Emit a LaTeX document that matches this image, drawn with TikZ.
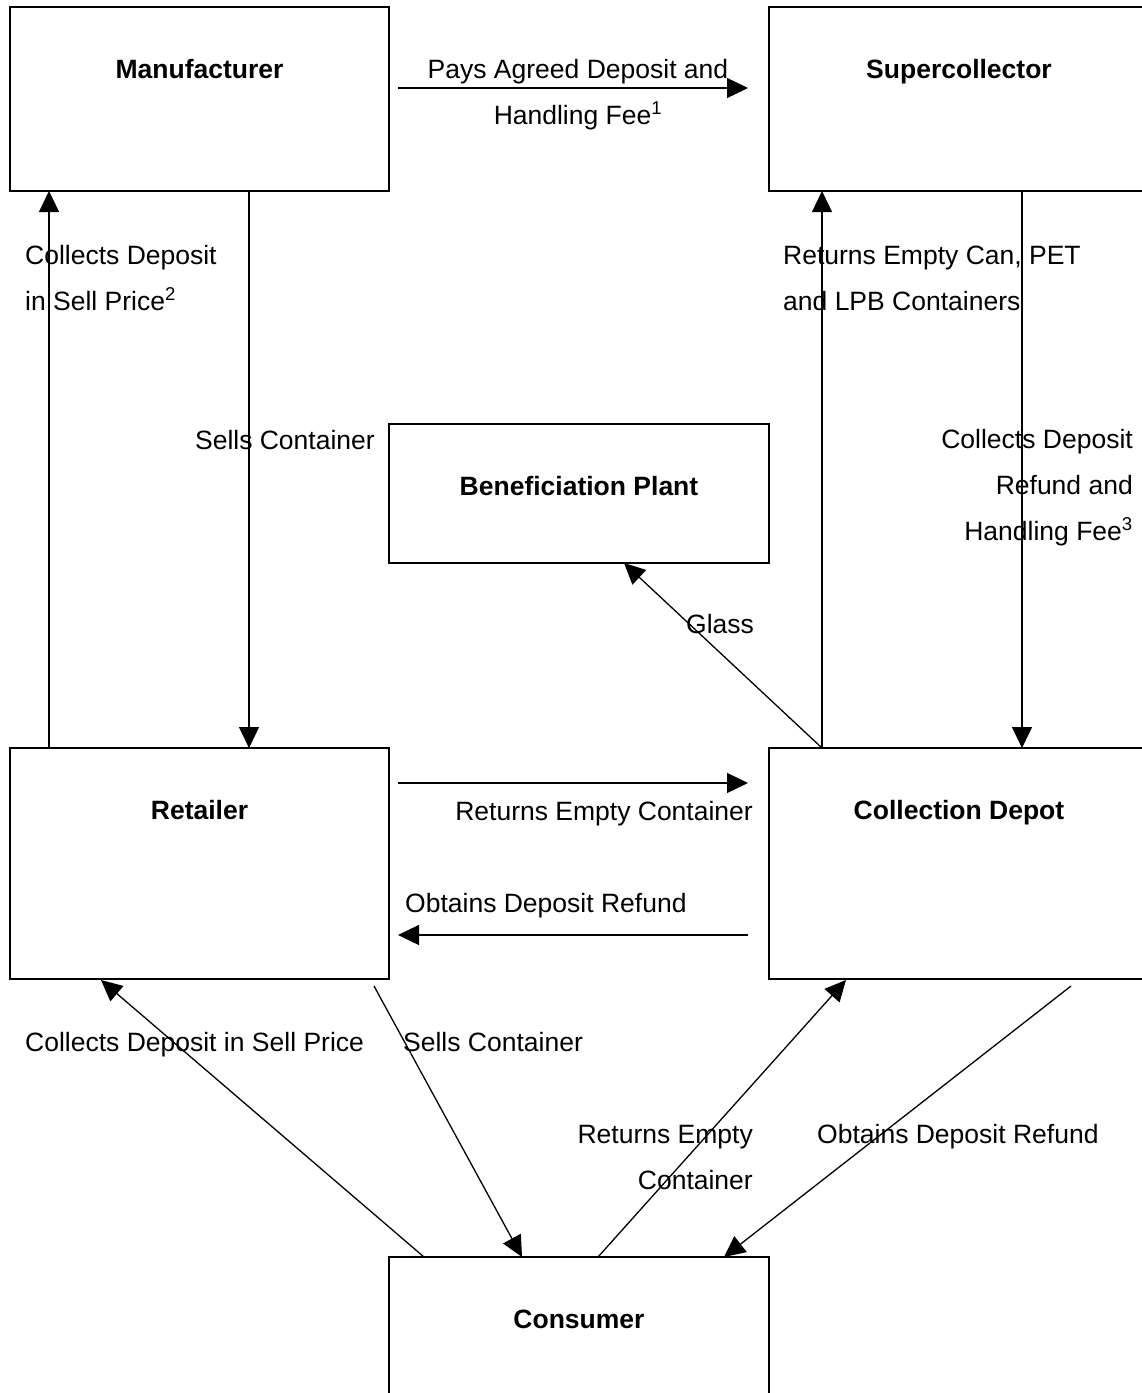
\documentclass[tikz,border=0pt]{standalone}
\usepackage{fontspec}
\setmainfont{Liberation Sans}
\usetikzlibrary{arrows.meta,calc}
\begin{document}
\begin{tikzpicture}[x=1pt,y=-1pt,
  box/.style={draw,line width=2pt,inner sep=0pt,outer sep=0pt,rectangle},
  ttl/.style={inner sep=0pt,font=\fontsize{26.5}{46}\selectfont\bfseries,anchor=base},
  lbl/.style={inner sep=0pt,font=\fontsize{26.5}{46}\selectfont},
  arr/.style={line width=1.3pt,-{Triangle[length=21pt,width=20pt]}}]
\clip (0,0) rectangle (1142,1393);
\fill[white] (0,0) rectangle (1142,1393);
% boxes
\node[box,minimum width=379pt,minimum height=184pt] (man) at (199.5,99) {};
\node[box,minimum width=380pt,minimum height=184pt] (sup) at (959,99) {};
\node[box,minimum width=380pt,minimum height=139pt] (ben) at (579,493.5) {};
\node[box,minimum width=379pt,minimum height=231pt] (ret) at (199.5,863.5) {};
\node[box,minimum width=380pt,minimum height=231pt] (dep) at (959,863.5) {};
\node[box,minimum width=380pt,minimum height=231pt] (con) at (579,1372.5) {};
% titles
\node[ttl] (manT) at (199.5,78) {Manufacturer};
\node[ttl] (supT) at (959,78) {Supercollector};
\node[ttl] (benT) at (579,495) {Beneficiation Plant};
\node[ttl] (retT) at (199.5,819) {Retailer};
\node[ttl] (depT) at (959,819) {Collection Depot};
\node[ttl] (conT) at (579,1328) {Consumer};
% connectors
\draw[arr] ($(man.north east)+(9,81)$) -- ($(sup.north west)+(-21,81)$);
\draw[arr] ($(ret.north west)+(39,0)$) -- ($(man.south west)+(39,0)$);
\draw[arr] ($(man.south west)+(239,0)$) -- ($(ret.north west)+(239,0)$);
\draw[arr] ($(dep.north west)+(53,0)$) -- ($(sup.south west)+(53,0)$);
\draw[arr] ($(sup.south west)+(253,0)$) -- ($(dep.north west)+(253,0)$);
\draw[arr] ($(dep.north west)+(53,0)$) -- ($(ben.south west)+(235,0)$);
\draw[arr] ($(ret.north east)+(9,35)$) -- ($(dep.north west)+(-21,35)$);
\draw[arr] ($(dep.north west)+(-21,187)$) -- ($(ret.north east)+(9,187)$);
\draw[arr] ($(con.north west)+(35,0)$) -- ($(ret.south west)+(91,1)$);
\draw[arr] ($(ret.south east)+(-15,7)$) -- ($(con.north west)+(133,0)$);
\draw[arr] ($(con.north west)+(209,0)$) -- ($(dep.south west)+(77,1)$);
\draw[arr] ($(dep.south west)+(302,7)$) -- ($(con.north west)+(335,0)$);
% labels
\node[lbl,anchor=base,align=center] (l1) at (578,124) {Pays Agreed Deposit and\\Handling Fee\textsuperscript{1}};
\node[lbl,anchor=base west,align=left] (l2) at (25,310) {Collects Deposit\\in Sell Price\textsuperscript{2}};
\node[lbl,anchor=base east] (l3) at (375,449) {Sells Container};
\node[lbl,anchor=base west,align=left] (l4) at (783,310) {Returns Empty Can, PET\\and LPB Containers};
\node[lbl,anchor=base east,align=right] (l5) at (1133,540) {Collects Deposit\\Refund and\\Handling Fee\textsuperscript{3}};
\node[lbl,anchor=base west] (l6) at (686,633) {Glass};
\node[lbl,anchor=base east] (l7) at (753,820) {Returns Empty Container};
\node[lbl,anchor=base west] (l8) at (405,912) {Obtains Deposit Refund};
\node[lbl,anchor=base west] (l9) at (25,1051) {Collects Deposit in Sell Price};
\node[lbl,anchor=base west] (l10) at (403,1051) {Sells Container};
\node[lbl,anchor=base east,align=right] (l11) at (753,1189) {Returns Empty\\Container};
\node[lbl,anchor=base west] (l12) at (817,1143) {Obtains Deposit Refund};
\end{tikzpicture}
\end{document}
